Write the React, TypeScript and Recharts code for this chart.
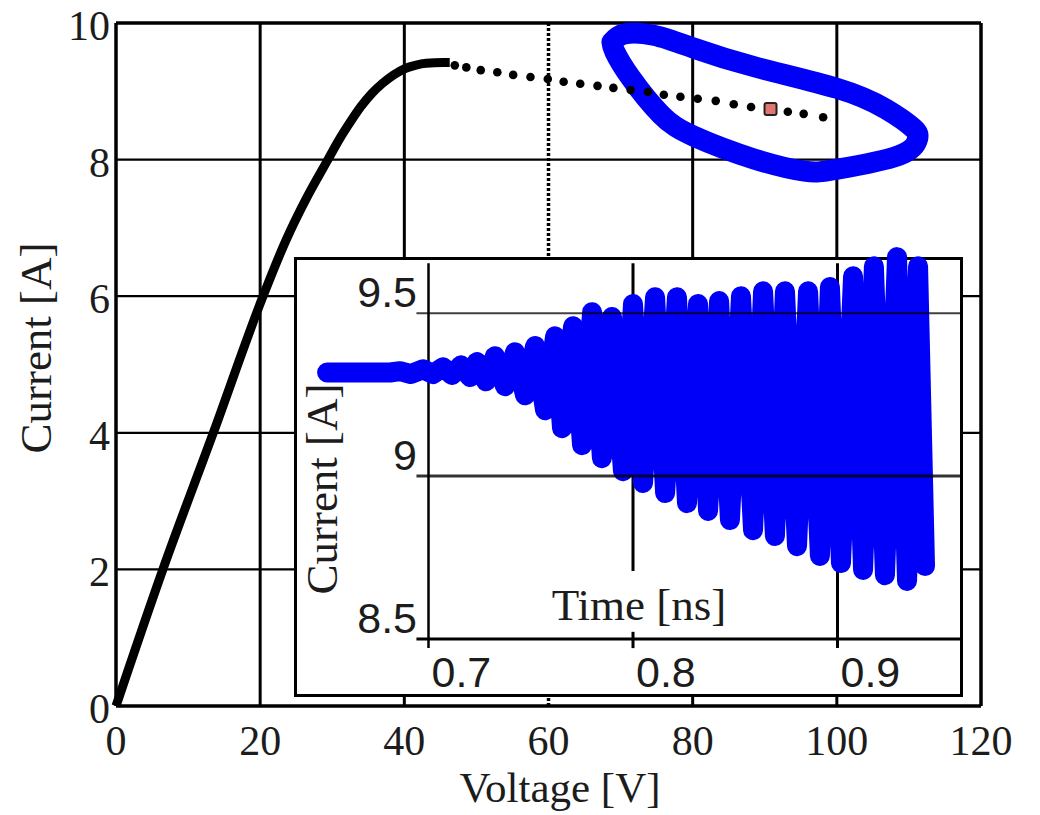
import React from 'react';
import { ComposedChart, LineChart, Line, Scatter, XAxis, YAxis, ReferenceLine, Label } from 'recharts';

// ---------- main chart data ----------
const voltageTicks = [0, 20, 40, 60, 80, 100, 120];
const currentTicks = [0, 2, 4, 6, 8, 10];
const voltageGridSolid = [20, 40, 80, 100];
const voltageGridDotted = [60];
const currentGrid = [2, 4, 6, 8];

// I-V curve (black, thick)
const ivVoltage = [0, 6.5, 13.5, 20.4, 23.5, 26.5, 29.4, 31, 32.5, 34, 35.5, 37, 38.5, 40, 41.5, 43, 45.4, 46.3];
const ivCurrent = [0, 2, 4, 6, 6.8, 7.45, 8.0, 8.3, 8.55, 8.78, 8.97, 9.12, 9.24, 9.33, 9.38, 9.41, 9.42, 9.42];

// dotted load line (black dots)
const dotVoltage = [47.0, 48.6, 50.6, 52.9, 55.1, 57.5, 59.9, 62.1, 64.4, 66.8, 69.0, 71.4, 73.8, 76.0, 78.3, 80.7, 83.2, 85.7, 88.1, 93.2, 95.4, 98.1];
const dotCurrent = [9.38, 9.35, 9.31, 9.28, 9.24, 9.21, 9.18, 9.14, 9.11, 9.08, 9.05, 9.02, 8.99, 8.95, 8.92, 8.89, 8.86, 8.81, 8.77, 8.70, 8.67, 8.62];

// operating point (red square)
const opVoltage = [90.8];
const opCurrent = [8.74];

// limit-cycle loop (blue, thick)
const loopVoltage = [68.8, 70.5, 74.6, 80.2, 88.5, 100.1, 106.8, 110.6, 111.2, 108.6, 100.1, 95.5, 88.5, 80.2, 75.6, 71.4, 69.2, 68.8];
const loopCurrent = [9.72, 9.84, 9.82, 9.63, 9.36, 9.04, 8.74, 8.46, 8.3, 8.06, 7.86, 7.83, 8.01, 8.34, 8.66, 9.2, 9.58, 9.72];

// ---------- inset data ----------
const timeTicks = [0.7, 0.8, 0.9];
const insetCurrentTicks = [8.5, 9, 9.5];
const osciTime = [0.6504, 0.6812, 0.6861, 0.6914, 0.6973, 0.7022, 0.7071, 0.7115, 0.7159, 0.7203, 0.7237, 0.7281, 0.7325, 0.7374, 0.7423, 0.7472, 0.7521, 0.7570, 0.7619, 0.7653, 0.7707, 0.7751, 0.7800, 0.7848, 0.7897, 0.7951, 0.8000, 0.8049, 0.8108, 0.8157, 0.8215, 0.8264, 0.8318, 0.8367, 0.8421, 0.8474, 0.8528, 0.8587, 0.8636, 0.8694, 0.8743, 0.8802, 0.8856, 0.8914, 0.8963, 0.9017, 0.9076, 0.9125, 0.9178, 0.9232, 0.9291, 0.9340, 0.9394, 0.9428];
const osciCurrent = [9.318, 9.318, 9.322, 9.313, 9.328, 9.313, 9.334, 9.310, 9.340, 9.304, 9.350, 9.291, 9.368, 9.276, 9.380, 9.248, 9.399, 9.202, 9.429, 9.147, 9.460, 9.095, 9.503, 9.055, 9.488, 9.015, 9.528, 8.979, 9.549, 8.948, 9.549, 8.917, 9.528, 8.893, 9.537, 8.865, 9.552, 8.834, 9.567, 8.816, 9.567, 8.785, 9.567, 8.755, 9.580, 8.733, 9.613, 8.712, 9.644, 8.696, 9.672, 8.678, 9.644, 8.724];

const ivData = ivVoltage.map((x, i) => ({ x, y: ivCurrent[i] }));
const dotData = dotVoltage.map((x, i) => ({ x, y: dotCurrent[i] }));
const opData = opVoltage.map((x, i) => ({ x, y: opCurrent[i] }));
const loopData = loopVoltage.map((x, i) => ({ x, y: loopCurrent[i] }));
const osciData = osciTime.map((t, i) => ({ t, c: osciCurrent[i] }));

const SERIF = "'Liberation Serif', 'Times New Roman', serif";
const SANS = "'Liberation Sans', Arial, sans-serif";
const TXT = '#1c1c1c';
const BLUE = '#0000f8';

const MainXTick = (props: any) => (
  <text x={props.x} y={755} textAnchor="middle" fontSize={42} fontFamily={SERIF} fill={TXT}>
    {props.payload.value}
  </text>
);
const MainYTick = (props: any) => (
  <text x={110} y={props.y + 17} textAnchor="end" fontSize={42} fontFamily={SERIF} fill={TXT}>
    {props.payload.value}
  </text>
);
const InsetXTick = (props: any) => (
  <text x={props.x + 3} y={447} textAnchor="start" fontSize={43} fontFamily={SANS} fill={TXT}>
    {props.payload.value}
  </text>
);
const InsetYTick = (props: any) => (
  <text x={123} y={props.y - 6} textAnchor="end" fontSize={43} fontFamily={SANS} fill={TXT}>
    {props.payload.value}
  </text>
);

const Dot = (props: any) => <circle cx={props.cx} cy={props.cy} r={4.3} fill="#000" />;
const OpMarker = (props: any) => (
  <rect x={props.cx - 6} y={props.cy - 6} width={12} height={12} rx={2} fill="#e0766f" stroke="#222" strokeWidth={2} />
);

export default function App() {
  return (
    <div style={{ position: 'absolute', left: 0, top: 0, width: 1040, height: 815, background: '#fff', overflow: 'hidden' }}>
      <div style={{ position: 'absolute', left: 0, top: 0 }}>
        <ComposedChart width={1040} height={815} margin={{ top: 23, right: 59, left: 0, bottom: 0 }}>
          <XAxis
            type="number"
            dataKey="x"
            domain={[0, 120]}
            ticks={voltageTicks}
            height={109}
            axisLine={{ stroke: '#000', strokeWidth: 3.5 }}
            tickLine={false}
            tick={<MainXTick />}
            interval={0}
          >
            <Label
              content={() => (
                <text x={560} y={802} textAnchor="middle" fontSize={43} fontFamily={SERIF} fill={TXT}>
                  Voltage [V]
                </text>
              )}
            />
          </XAxis>
          <YAxis
            type="number"
            dataKey="y"
            domain={[0, 10]}
            ticks={currentTicks}
            width={116}
            axisLine={{ stroke: '#000', strokeWidth: 3.5 }}
            tickLine={false}
            tick={<MainYTick />}
            interval={0}
          >
            <Label
              content={() => (
                <text x={51} y={348} transform="rotate(-90 51 348)" textAnchor="middle" fontSize={45} fontFamily={SERIF} fill={TXT}>
                  Current [A]
                </text>
              )}
            />
          </YAxis>
          {voltageGridSolid.map((v) => (
            <ReferenceLine key={'vx' + v} x={v} stroke="#000" strokeWidth={3} />
          ))}
          {voltageGridDotted.map((v) => (
            <ReferenceLine key={'vd' + v} x={v} stroke="#000" strokeWidth={3.5} strokeDasharray="3 2" />
          ))}
          {currentGrid.map((v) => (
            <ReferenceLine key={'hy' + v} y={v} stroke="#000" strokeWidth={2.2} />
          ))}
          <ReferenceLine y={10} stroke="#000" strokeWidth={3.5} />
          <ReferenceLine x={120} stroke="#000" strokeWidth={3.5} />
          <Line
            data={ivData}
            dataKey="y"
            type="monotone"
            stroke="#000"
            strokeWidth={9}
            dot={false}
            activeDot={false}
            isAnimationActive={false}
          />
          <Scatter data={dotData} dataKey="y" shape={<Dot />} isAnimationActive={false} />
          <Line
            data={loopData}
            dataKey="y"
            type="natural"
            stroke={BLUE}
            strokeWidth={21}
            strokeLinejoin="round"
            strokeLinecap="round"
            dot={false}
            activeDot={false}
            isAnimationActive={false}
          />
          <Scatter data={opData} dataKey="y" shape={<OpMarker />} isAnimationActive={false} />
        </ComposedChart>
      </div>

      <div
        style={{
          position: 'absolute',
          left: 294,
          top: 257,
          width: 669,
          height: 440,
          boxSizing: 'border-box',
          border: '3px solid #000',
          background: '#fff',
        }}
      />

      <div style={{ position: 'absolute', left: 294, top: 240 }}>
        <LineChart width={669} height={460} margin={{ top: 8, right: 0, left: 0, bottom: 11 }}>
          <XAxis
            type="number"
            dataKey="t"
            domain={[0.63716, 0.96137]}
            ticks={timeTicks}
            height={50}
            axisLine={false}
            tickLine={false}
            tick={<InsetXTick />}
            interval={0}
          >
            <Label
              content={() => (
                <text x={345} y={380} textAnchor="middle" fontSize={45} fontFamily={SERIF} fill={TXT}>
                  Time [ns]
                </text>
              )}
            />
          </XAxis>
          <YAxis
            type="number"
            dataKey="c"
            domain={[8.5, 9.7]}
            ticks={insetCurrentTicks}
            width={6}
            axisLine={false}
            tickLine={false}
            tick={<InsetYTick />}
            interval={0}
          >
            <Label
              content={() => (
                <text x={43} y={249} transform="rotate(-90 43 249)" textAnchor="middle" fontSize={45} fontFamily={SERIF} fill={TXT}>
                  Current [A]
                </text>
              )}
            />
          </YAxis>
          {/* vertical grid / axis lines (under the signal) */}
          <ReferenceLine segment={[{ x: 0.7, y: 8.472 }, { x: 0.7, y: 9.653 }]} stroke="#000" strokeWidth={2.5} ifOverflow="visible" />
          <ReferenceLine segment={[{ x: 0.8, y: 8.709 }, { x: 0.8, y: 9.653 }]} stroke="#000" strokeWidth={3} ifOverflow="visible" />
          <ReferenceLine segment={[{ x: 0.8, y: 8.472 }, { x: 0.8, y: 8.522 }]} stroke="#000" strokeWidth={3} ifOverflow="visible" />
          <ReferenceLine segment={[{ x: 0.9, y: 8.472 }, { x: 0.9, y: 9.653 }]} stroke="#000" strokeWidth={3} ifOverflow="visible" />
          <Line
            data={osciData}
            dataKey="c"
            type="linear"
            stroke={BLUE}
            strokeWidth={20}
            strokeLinejoin="round"
            strokeLinecap="round"
            dot={false}
            activeDot={false}
            isAnimationActive={false}
          />
          {/* horizontal grid / axis lines */}
          <ReferenceLine segment={[{ x: 0.6941, y: 9.5 }, { x: 0.96137, y: 9.5 }]} stroke="#000" strokeWidth={2} strokeOpacity={0.75} ifOverflow="visible" />
          <ReferenceLine segment={[{ x: 0.6941, y: 9 }, { x: 0.96137, y: 9 }]} stroke="#000" strokeWidth={3} strokeOpacity={0.8} ifOverflow="visible" />
          <ReferenceLine segment={[{ x: 0.6941, y: 8.5 }, { x: 0.96137, y: 8.5 }]} stroke="#000" strokeWidth={3} ifOverflow="visible" />
        </LineChart>
      </div>
    </div>
  );
}
